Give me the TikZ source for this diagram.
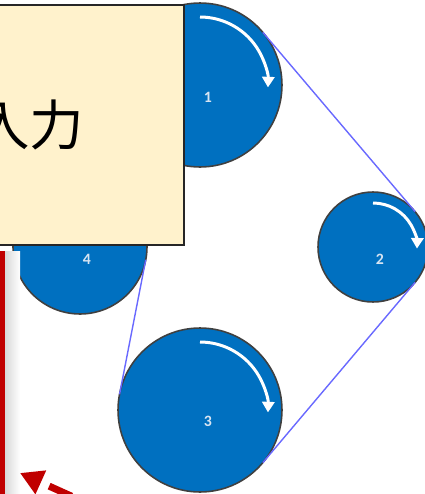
\documentclass[tikz,border=0pt]{standalone}
\usepackage{fontspec}
\newfontfamily\jpfont{Noto Sans CJK JP}
\newfontfamily\numfont{Carlito}
\usetikzlibrary{
    arrows.meta,
    positioning,
    calc
}
\definecolor{PulleyBlue}{RGB}{0,112,192}
\definecolor{BeltViolet}{RGB}{105,105,255}
\definecolor{NoteCream}{RGB}{255,242,204}
\definecolor{ArrowRed}{RGB}{192,0,0}
\definecolor{LabelPale}{RGB}{215,228,242}
\tikzset{
  pulley/.style = {draw=black!75, line width=0.9pt, circle, fill=PulleyBlue,
                   inner sep=0pt, outer sep=0pt},
  belt/.style   = {BeltViolet, line width=0.8pt},
  spin/.style   = {white, line width=1.7pt, -{Triangle[length=6pt,width=7pt]}},
  num/.style    = {font=\numfont\bfseries\small, text=LabelPale, inner sep=0pt}
}

\begin{document}
\begin{tikzpicture}[
    x=0.02cm, y=0.02cm,
    note/.style={draw=black!85, line width=0.9pt, fill=NoteCream, inner sep=0pt,
                 minimum width=6.16cm, minimum height=4.8cm,
                 font=\jpfont\fontsize{31}{31}\selectfont},
    redarr/.style={ArrowRed, line width=4pt, dash pattern=on 14pt off 6pt,
                   dash phase=14pt, {Triangle[length=13pt,width=14pt]}-}
]
\clip (0,0) rectangle (425,-494);

% pulleys
\node[pulley, minimum size=3.28cm] (c1) at (200,-85) {};
\node[pulley, minimum size=2.2cm]  (c2) at (373,-247) {};
\node[pulley, minimum size=3.28cm] (c3) at (200,-410) {};
\node[pulley, minimum size=2.68cm] (c4) at (80,-247) {};
\node[num] (n1) at ($(c1)+(8,-12)$) {1};
\node[num] (n2) at ($(c2)+(7,-12)$) {2};
\node[num] (n3) at ($(c3)+(8,-11)$) {3};
\node[num] (n4) at ($(c4)+(7,-12)$) {4};

% belt
\draw[belt] (c1.40) -- (c2.40);
\draw[belt] (c2.-40) -- (c3.-40);
\draw[belt] (c3.169) -- (c4.-11);

% turning direction
\draw[spin] ($(c1)+(0,68)$) arc[start angle=90, end angle=-2, radius=68];
\draw[spin] ($(c2)+(0,44)$) arc[start angle=90, end angle=-2, radius=44];
\draw[spin] ($(c3)+(0,68)$) arc[start angle=90, end angle=-2, radius=68];

% input box
\node[note] (inbox) at (30,-125) {入力};

% red line + dashed arrow
\shade[left color=black!15, right color=white] (5,-251) rectangle (20,-494);
\fill[ArrowRed] (0,-251) rectangle (5,-494);
\coordinate (tip)  at (20,-473);
\coordinate (tail) at (111,-514);
\draw[redarr] (tip) -- (tail);
\end{tikzpicture}
\end{document}
